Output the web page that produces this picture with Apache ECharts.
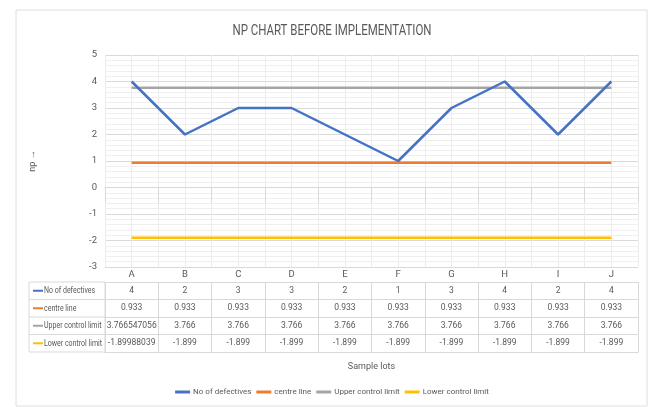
<!DOCTYPE html>
<html>
<head>
<meta charset="utf-8">
<script src="https://cdn.jsdelivr.net/npm/echarts@6/dist/echarts.min.js"></script>
<style>
  html, body { margin: 0; padding: 0; background: #fff; }
  #chart { width: 664px; height: 407px; }
</style>
</head>
<body>
<div id="chart"></div>
<script>
// data
const lots = ['A', 'B', 'C', 'D', 'E', 'F', 'G', 'H', 'I', 'J']
const seriesNames = ['No of defectives', 'centre line', 'Upper control limit', 'Lower control limit']
const seriesColors = ['#4472C4', '#ED7D31', '#A5A5A5', '#FFC000']
const defectives = [4, 2, 3, 3, 2, 1, 3, 4, 2, 4]
const centreLine = [0.933, 0.933, 0.933, 0.933, 0.933, 0.933, 0.933, 0.933, 0.933, 0.933]
const upperLimit = [3.766547056, 3.766, 3.766, 3.766, 3.766, 3.766, 3.766, 3.766, 3.766, 3.766]
const lowerLimit = [-1.89988039, -1.899, -1.899, -1.899, -1.899, -1.899, -1.899, -1.899, -1.899, -1.899]
const yTicks = { min: -3, max: 5, step: 1 }

const rows = [defectives, centreLine, upperLimit, lowerLimit]
const font = 'Roboto, sans-serif'
const txt = '#595959'
const gridCol = '#d9d9d9'

// table layout (px)
const plotLeft = 105
const plotBottom = 267
const headH = 15
const rowH = 17.5

const chart = echarts.init(document.getElementById('chart'))

// one category axis per table row, stacked under the plot
const tableAxes = rows.map((vals, i) => ({
  type: 'category',
  gridIndex: 0,
  position: 'bottom',
  offset: headH + rowH * i,
  data: vals.map(String),
  axisLine: { show: true, lineStyle: { color: gridCol } },
  axisTick: { show: true, length: rowH, lineStyle: { color: gridCol } },
  axisLabel: {
    interval: 0, margin: rowH / 2, verticalAlign: 'middle',
    color: txt, fontSize: 8.5, fontFamily: font
  },
  splitLine: { show: false }
}))

const xAxes = [
  {
    type: 'category',
    data: lots,
    position: 'bottom',
    axisLine: { show: true, lineStyle: { color: gridCol } },
    axisTick: { show: true, length: headH, lineStyle: { color: gridCol } },
    axisLabel: { interval: 0, margin: headH / 2, verticalAlign: 'middle', color: txt, fontSize: 9.5, fontFamily: font },
    splitLine: { show: true, lineStyle: { color: gridCol } }
  },
  ...tableAxes,
  {
    // bottom border of the table + axis title
    type: 'category',
    data: lots,
    position: 'bottom',
    offset: headH + rowH * rows.length,
    axisLine: { show: true, lineStyle: { color: gridCol } },
    axisTick: { show: false },
    axisLabel: { show: false },
    name: 'Sample lots',
    nameLocation: 'middle',
    nameGap: 10,
    nameTextStyle: { color: txt, fontSize: 9, fontFamily: font }
  },
  {
    // faint lines through category centres
    type: 'value',
    min: 0, max: lots.length, interval: 0.5,
    position: 'top',
    axisLine: { show: false }, axisTick: { show: false }, axisLabel: { show: false },
    splitLine: { show: true, lineStyle: { color: '#ececec' } }
  }
]

// row labels with legend keys on the left of the table
const tableTop = plotBottom + headH
const tableGraphics = [
  {
    type: 'rect', z: 1,
    shape: { x: 29, y: tableTop, width: plotLeft - 29, height: rowH * rows.length },
    style: { fill: 'none', stroke: gridCol, lineWidth: 1 }
  }
]
seriesNames.forEach((name, i) => {
  const cy = tableTop + rowH * i + rowH / 2
  if (i > 0) {
    tableGraphics.push({
      type: 'line', z: 1,
      shape: { x1: 29, y1: tableTop + rowH * i, x2: plotLeft, y2: tableTop + rowH * i },
      style: { stroke: gridCol, lineWidth: 1 }
    })
  }
  tableGraphics.push({
    type: 'line', z: 2,
    shape: { x1: 33, y1: cy, x2: 43, y2: cy },
    style: { stroke: seriesColors[i], lineWidth: 2 }
  })
  tableGraphics.push({
    type: 'text', z: 2, x: 44, y: cy, scaleX: 0.78,
    style: { text: name, fill: txt, fontSize: 9, fontFamily: font, verticalAlign: 'middle', align: 'left' }
  })
})

const option = {
  animation: false,
  backgroundColor: '#fff',
  textStyle: { fontFamily: font },
  grid: { left: plotLeft, right: 26, top: 55, bottom: 407 - plotBottom },
  legend: {
    bottom: 6,
    left: 'center',
    icon: 'rect',
    itemWidth: 15,
    itemHeight: 3,
    itemGap: 5,
    textStyle: { color: txt, fontSize: 8, fontFamily: font, padding: [0, 0, 0, -2] },
    data: seriesNames
  },
  xAxis: xAxes,
  yAxis: {
    type: 'value',
    min: yTicks.min,
    max: yTicks.max,
    interval: yTicks.step,
    name: 'np →',
    nameLocation: 'middle',
    nameRotate: 90,
    nameGap: 68,
    nameTextStyle: { color: txt, fontSize: 9, fontFamily: font },
    axisLine: { show: false },
    axisTick: { show: false },
    axisLabel: { color: txt, fontSize: 9.5, fontFamily: font, margin: 8 },
    splitLine: { show: true, lineStyle: { color: gridCol } },
    minorTick: { show: false, splitNumber: 5 },
    minorSplitLine: { show: true, lineStyle: { color: '#efefef' } }
  },
  graphic: [
    {
      type: 'rect', z: -10, silent: true,
      shape: { x: 16, y: 10, width: 631, height: 396 },
      style: { fill: '#fff', stroke: '#dedede', lineWidth: 1 }
    },
    {
      // chart title, narrowed like the condensed original
      type: 'text', z: 2, x: 332, y: 31, scaleX: 0.82,
      style: {
        text: 'NP CHART BEFORE IMPLEMENTATION', fill: txt, fontSize: 14,
        fontFamily: font, align: 'center', verticalAlign: 'middle'
      }
    },
    ...tableGraphics
  ],
  series: rows.map((vals, i) => ({
    name: seriesNames[i],
    type: 'line',
    xAxisIndex: 0,
    yAxisIndex: 0,
    data: vals,
    symbol: 'none',
    lineStyle: { color: seriesColors[i], width: 2.5 },
    itemStyle: { color: seriesColors[i] },
    z: i === 0 ? 5 : 3
  }))
}

chart.setOption(option)
</script>
</body>
</html>
